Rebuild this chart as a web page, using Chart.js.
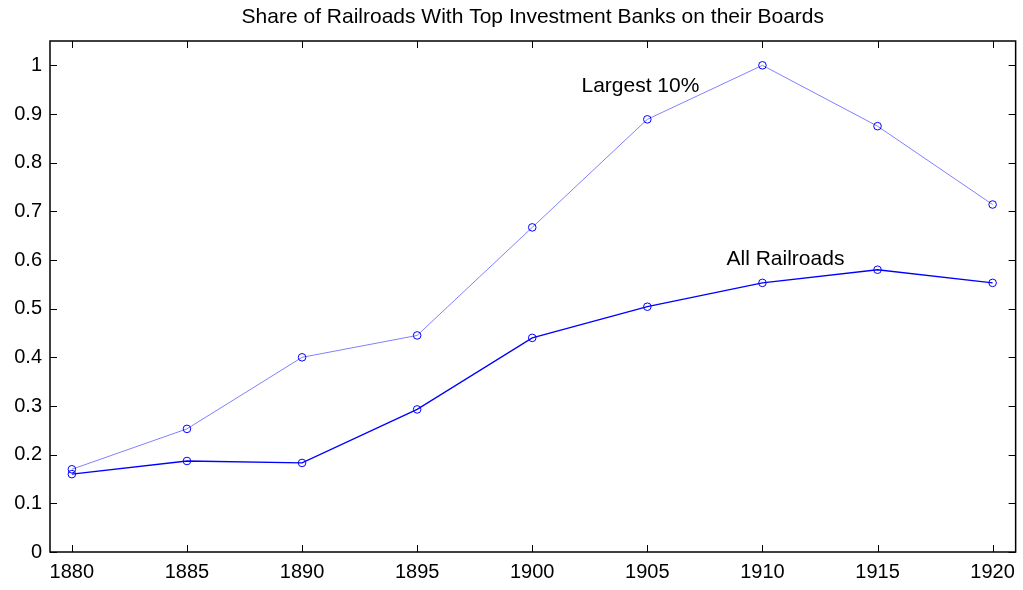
<!DOCTYPE html>
<html>
<head>
<meta charset="utf-8">
<script src="https://cdn.jsdelivr.net/npm/chart.js@4"></script>
<style>
  html, body { margin: 0; padding: 0; background: #fff; }
  #wrap { width: 1023px; height: 590px; }
</style>
</head>
<body>
<div id="wrap"><canvas id="railChart"></canvas></div>
<script>
// data

const years = [1880, 1885, 1890, 1895, 1900, 1905, 1910, 1915, 1920];
const largest10 = [0.17, 0.253, 0.40, 0.445, 0.667, 0.889, 1.0, 0.875, 0.714];
const allRailroads = [0.16, 0.187, 0.183, 0.293, 0.44, 0.504, 0.553, 0.58, 0.553];
const yTicks = [0, 0.1, 0.2, 0.3, 0.4, 0.5, 0.6, 0.7, 0.8, 0.9, 1];
const titleText = "Share of Railroads With Top Investment Banks on their Boards";
// text labels placed in data units: [text, year, value]
const seriesLabels = [
  ["Largest 10%", 1904.7, 0.958],
  ["All Railroads", 1911.0, 0.602],
];

const FONT = "'Liberation Sans', Arial, sans-serif";

// matlab-like box, inward ticks, title and in-plot labels
const matlabAxes = {
  id: "matlabAxes",
  afterDraw(chart) {
    const ctx = chart.ctx;
    const a = chart.chartArea;
    const xs = chart.scales.x;
    const ys = chart.scales.y;
    const tl = 7;
    ctx.save();
    ctx.strokeStyle = "#000";
    ctx.lineWidth = 1;
    ctx.beginPath();
    years.forEach((v) => {
      const px = Math.round(xs.getPixelForValue(v)) + 0.5;
      ctx.moveTo(px, a.bottom);
      ctx.lineTo(px, a.bottom - tl);
      ctx.moveTo(px, a.top);
      ctx.lineTo(px, a.top + tl);
    });
    yTicks.forEach((v) => {
      const py = Math.round(ys.getPixelForValue(v)) + 0.5;
      ctx.moveTo(a.left, py);
      ctx.lineTo(a.left + tl, py);
      ctx.moveTo(a.right, py);
      ctx.lineTo(a.right - tl, py);
    });
    ctx.stroke();
    ctx.lineWidth = 1.5;
    ctx.strokeRect(a.left, a.top, a.right - a.left, a.bottom - a.top);

    ctx.fillStyle = "#000";
    ctx.textAlign = "center";
    ctx.textBaseline = "middle";
    ctx.font = "21px " + FONT;
    ctx.fillText(titleText, (a.left + a.right) / 2, 17);

    ctx.font = "21px " + FONT;
    seriesLabels.forEach(([t, x, y]) => {
      ctx.fillText(t, xs.getPixelForValue(x), ys.getPixelForValue(y));
    });
    ctx.restore();
  },
};

new Chart(document.getElementById("railChart"), {
  type: "line",
  data: {
    datasets: [
      {
        label: "Largest 10%",
        data: years.map((y, i) => ({ x: y, y: largest10[i] })),
        borderColor: "#8080ff",
        borderWidth: 1,
        pointBorderColor: "#0000ff",
        pointBackgroundColor: "transparent",
        pointBorderWidth: 1,
        pointRadius: 3.8,
      },
      {
        label: "All Railroads",
        data: years.map((y, i) => ({ x: y, y: allRailroads[i] })),
        borderColor: "#0000ff",
        borderWidth: 1.3,
        pointBorderColor: "#0000ff",
        pointBackgroundColor: "transparent",
        pointBorderWidth: 1,
        pointRadius: 3.8,
      },
    ],
  },
  options: {
    responsive: true,
    maintainAspectRatio: false,
    animation: false,
    layout: { padding: { top: 41, right: 6, left: 0, bottom: 0 } },
    plugins: {
      legend: { display: false },
      tooltip: { enabled: false },
    },
    scales: {
      x: {
        type: "linear",
        min: 1879.05,
        max: 1921,
        grid: { display: false, drawTicks: false },
        border: { display: false },
        afterBuildTicks: (s) => { s.ticks = years.map((v) => ({ value: v })); },
        afterFit: (s) => { s.height = 38; },
        ticks: {
          color: "#000",
          padding: 8,
          maxRotation: 0,
          autoSkip: false,
          font: { family: FONT, size: 20 },
          callback: (v) => String(v),
        },
      },
      y: {
        min: 0,
        max: 1.05,
        grid: { display: false, drawTicks: false },
        border: { display: false },
        afterBuildTicks: (s) => { s.ticks = yTicks.map((v) => ({ value: v })); },
        afterFit: (s) => { s.width = 50; },
        ticks: {
          color: "#000",
          padding: 8,
          font: { family: FONT, size: 20 },
          callback: (v) => String(Math.round(v * 10) / 10),
        },
      },
    },
  },
  plugins: [matlabAxes],
});
</script>
</body>
</html>
